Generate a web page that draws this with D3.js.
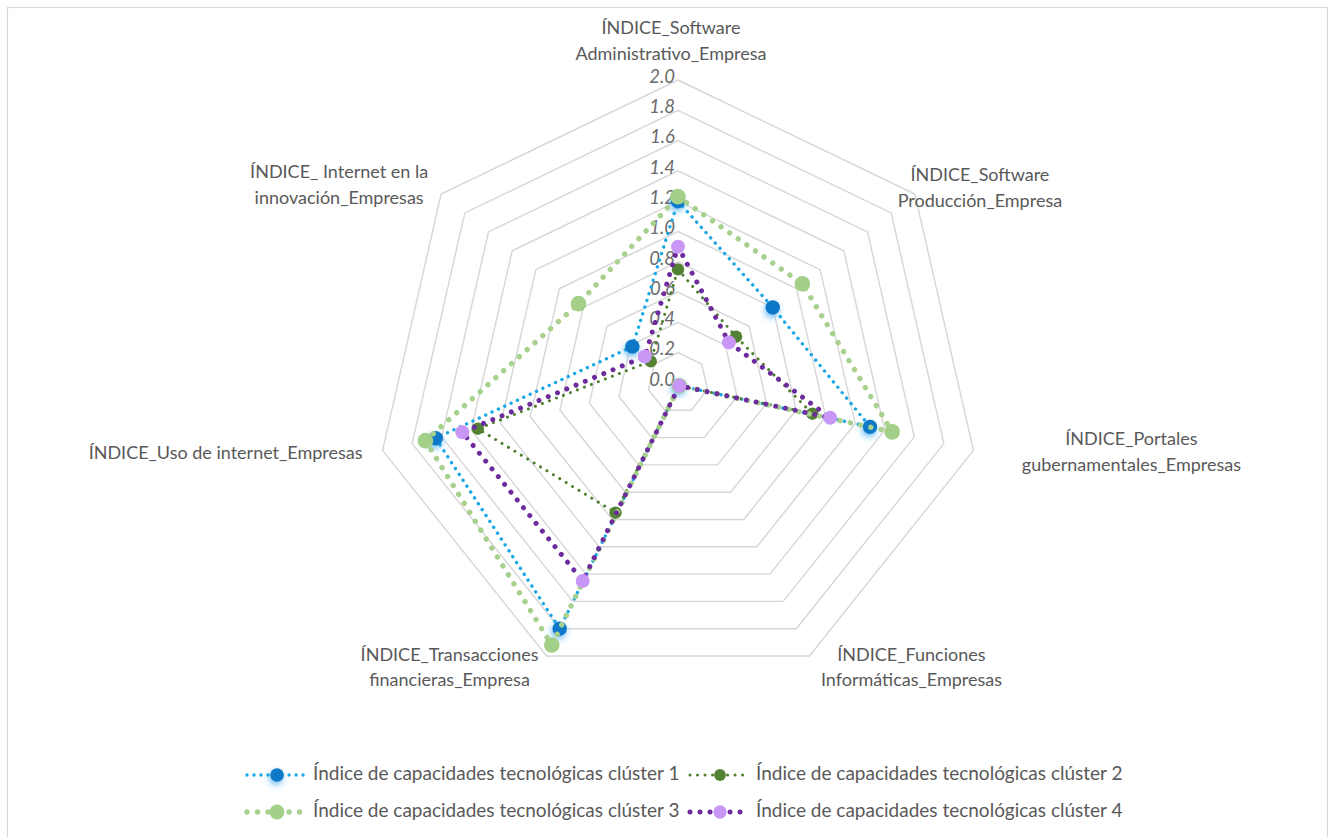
<!DOCTYPE html>
<html>
<head>
<meta charset="utf-8">
<script src="https://cdn.jsdelivr.net/npm/d3@7/dist/d3.min.js"></script>
<style>
  html, body { margin: 0; padding: 0; background: #ffffff; }
  svg { display: block; }
  text { font-family: Lato, "Liberation Sans", sans-serif; }
</style>
</head>
<body>
<svg id="chart" width="1334" height="837"></svg>
<script>
// Axis categories (label lines as drawn around the radar)
const categories = [
  ["ÍNDICE_Software", "Administrativo_Empresa"],
  ["ÍNDICE_Software", "Producción_Empresa"],
  ["ÍNDICE_Portales", "gubernamentales_Empresas"],
  ["ÍNDICE_Funciones", "Informáticas_Empresas"],
  ["ÍNDICE_Transacciones", "financieras_Empresa"],
  ["ÍNDICE_Uso de internet_Empresas"],
  ["ÍNDICE_ Internet en la", "innovación_Empresas"]
];

// Series names
const seriesNames = [
  "Índice de capacidades tecnológicas clúster 1",
  "Índice de capacidades tecnológicas clúster 2",
  "Índice de capacidades tecnológicas clúster 3",
  "Índice de capacidades tecnológicas clúster 4"
];

// Series values, one per axis in category order
const cluster1 = [1.20, 0.80, 1.30, 0.02, 1.80, 1.64, 0.385];
const cluster2 = [0.75, 0.49, 0.91, 0.02, 0.95, 1.355, 0.23];
const cluster3 = [1.23, 1.05, 1.45, 0.02, 1.92, 1.71, 0.84];
const cluster4 = [0.90, 0.43, 1.03, 0.02, 1.45, 1.46, 0.28];

// Radial tick labels
const tickValues = [0.0, 0.2, 0.4, 0.6, 0.8, 1.0, 1.2, 1.4, 1.6, 1.8, 2.0];
const tickLabels = ["0.0", "0.2", "0.4", "0.6", "0.8", "1.0", "1.2", "1.4", "1.6", "1.8", "2.0"];

// ---- layout & styles ----
const cx = 678, cy = 383, R = 303;
const labelOffsets = [ // dx, dy of first text baseline from each outer vertex
  [-7, -46], [65, -13], [158, -5], [102, 5], [-97, 5], [-157, 9], [-102, -16]
];
const styles = [
  { line: "#1aa7e6", width: 3.4, gap: 7,    marker: "#0a78c8", r: 7.2, glow: true },
  { line: "#4f7f2e", width: 3.0, gap: 7.5,  marker: "#548235", r: 6.2, glow: false },
  { line: "#a9d18e", width: 5.4, gap: 10.5, marker: "#a3cf88", r: 7.8, glow: false },
  { line: "#6e2b9e", width: 5.0, gap: 10,   marker: "#c896f5", r: 7.0, glow: false }
];
const seriesValues = [cluster1, cluster2, cluster3, cluster4];

const svg = d3.select("#chart");
const n = categories.length;
const angle = i => i * 2 * Math.PI / n;
const rScale = d3.scaleLinear().domain([0, 2]).range([0, R]);

// glow filter for the first series' markers
const defs = svg.append("defs");
const f = defs.append("filter").attr("id", "glow")
  .attr("x", "-100%").attr("y", "-100%").attr("width", "300%").attr("height", "300%");
f.append("feGaussianBlur").attr("in", "SourceAlpha").attr("stdDeviation", 3.2).attr("result", "b");
f.append("feOffset").attr("in", "b").attr("dx", -1).attr("dy", 3).attr("result", "o");
f.append("feFlood").attr("flood-color", "#3aa6f0").attr("flood-opacity", 0.75);
f.append("feComposite").attr("in2", "o").attr("operator", "in").attr("result", "s");
const fm = f.append("feMerge");
fm.append("feMergeNode").attr("in", "s");
fm.append("feMergeNode").attr("in", "SourceGraphic");

// chart frame
svg.append("rect")
  .attr("x", 7.5).attr("y", 7.5).attr("width", 1320).attr("height", 900)
  .attr("fill", "none").attr("stroke", "#d9d9d9").attr("stroke-width", 1.2);

const g = svg.append("g").attr("transform", `translate(${cx},${cy})`);

// grid rings
const ringLine = d3.lineRadial()
  .angle((d, i) => angle(i))
  .radius(d => rScale(d))
  .curve(d3.curveLinearClosed);

g.append("g").selectAll("path")
  .data(tickValues.filter(v => v > 0))
  .join("path")
  .attr("d", v => ringLine(d3.range(n).map(() => v)))
  .attr("fill", "none")
  .attr("stroke", "#d6d6d6")
  .attr("stroke-width", 1.4);

// radial tick labels along the first axis
g.append("g").selectAll("text")
  .data(tickValues)
  .join("text")
  .attr("x", -3)
  .attr("y", (v) => -rScale(v) - 2)
  .attr("text-anchor", "end")
  .attr("dominant-baseline", "middle")
  .attr("font-size", 18.5)
  .attr("font-style", "italic")
  .attr("fill", "#6b6b6b")
  .text((v, i) => tickLabels[i]);

// axis category labels
const pt = (i, v) => {
  const a = angle(i), r = rScale(v);
  return [r * Math.sin(a), -r * Math.cos(a)];
};
categories.forEach((lines, i) => {
  const [vx, vy] = pt(i, 2);
  const t = g.append("text")
    .attr("text-anchor", "middle")
    .attr("font-size", 18)
    .attr("fill", "#595959");
  lines.forEach((ln, k) => {
    t.append("tspan")
      .attr("x", vx + labelOffsets[i][0])
      .attr("y", vy + labelOffsets[i][1] + k * 25.5)
      .text(ln);
  });
});

// series
const seriesLine = d3.lineRadial()
  .angle((d, i) => angle(i))
  .radius(d => rScale(d))
  .curve(d3.curveLinearClosed);

seriesValues.forEach((vals, s) => {
  const st = styles[s];
  const sg = g.append("g");
  sg.append("path")
    .attr("d", seriesLine(vals))
    .attr("fill", "none")
    .attr("stroke", st.line)
    .attr("stroke-width", st.width)
    .attr("stroke-linecap", "round")
    .attr("stroke-dasharray", `0.01 ${st.gap}`);
  sg.selectAll("circle")
    .data(vals)
    .join("circle")
    .attr("cx", (d, i) => pt(i, d)[0])
    .attr("cy", (d, i) => pt(i, d)[1])
    .attr("r", st.r)
    .attr("fill", st.marker)
    .attr("filter", st.glow ? "url(#glow)" : null);
});

// legend
const legendCols = [245, 688], legendRows = [775, 812];
seriesNames.forEach((name, s) => {
  const st = styles[s];
  const x0 = legendCols[s % 2], y0 = legendRows[Math.floor(s / 2)];
  const lg = svg.append("g").attr("transform", `translate(${x0},${y0})`);
  lg.append("line")
    .attr("x1", 2).attr("x2", 60).attr("y1", 0).attr("y2", 0)
    .attr("stroke", st.line)
    .attr("stroke-width", st.width)
    .attr("stroke-linecap", "round")
    .attr("stroke-dasharray", `0.01 ${st.gap}`);
  lg.append("circle")
    .attr("cx", 32).attr("cy", 0).attr("r", st.r * 0.95)
    .attr("fill", st.marker)
    .attr("filter", st.glow ? "url(#glow)" : null);
  lg.append("text")
    .attr("x", 68).attr("y", 0)
    .attr("dominant-baseline", "middle")
    .attr("font-size", 19)
    .attr("fill", "#595959")
    .text(name);
});
</script>
</body>
</html>
